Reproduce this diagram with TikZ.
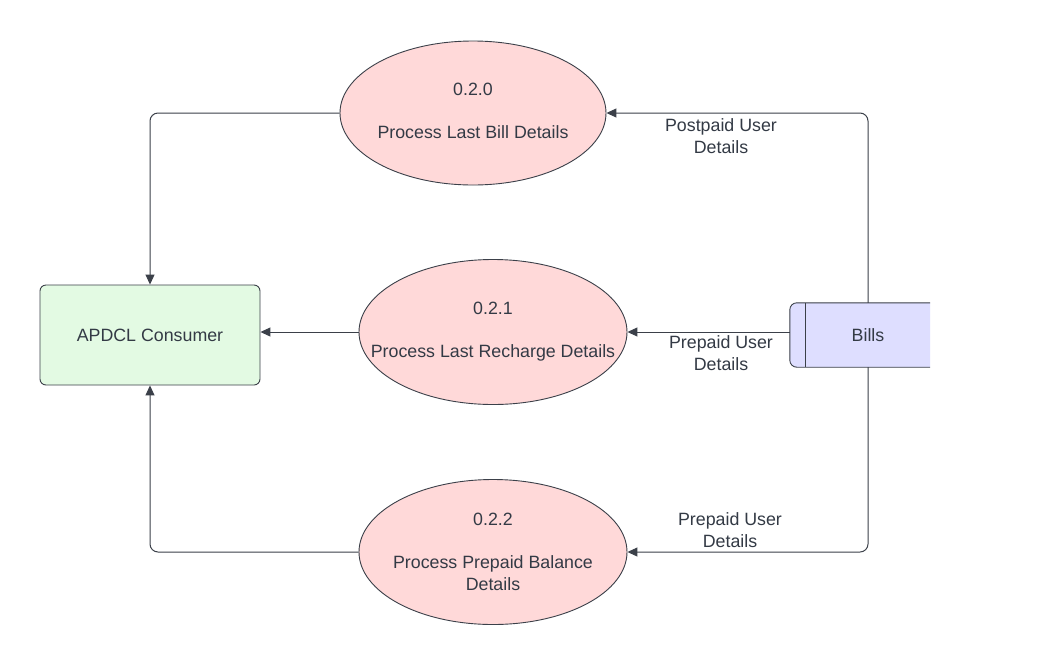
\documentclass[tikz,border=0pt]{standalone}
\usepackage{fontspec}
\setmainfont{Liberation Sans}
\usetikzlibrary{shapes.geometric,arrows.meta,backgrounds}
\definecolor{linec}{HTML}{3B4049}
\definecolor{txtc}{HTML}{333A45}
\definecolor{pinkf}{HTML}{FFD9D9}
\definecolor{greenf}{HTML}{E3FAE3}
\definecolor{bluef}{HTML}{DEDEFF}
\tikzset{
  proc/.style={ellipse, draw=linec, line width=0.9pt, fill=pinkf, inner sep=0pt},
  entity/.style={rectangle, rounded corners=6pt, draw=linec, line width=0.9pt, fill=greenf, inner sep=0pt, text=txtc},
  conn/.style={draw=linec, line width=1pt, rounded corners=8pt, -{Triangle[length=10pt,width=9pt]}},
  flowlabel/.style={align=center, text=txtc, inner sep=0pt},
}
\begin{document}
\begin{tikzpicture}[x=1pt,y=-1pt,font=\fontsize{17.8}{21.5}\selectfont]
\useasboundingbox (0,0) rectangle (1060,665);
\node[entity, minimum width=220pt, minimum height=100pt] (consumer) at (150,335) {APDCL Consumer};
\node[proc, minimum width=266pt, minimum height=144pt, label={[flowlabel, yshift=2pt]center:{0.2.0\\[21.5pt]Process Last Bill Details}}] (e0) at (473,113) {};
\node[proc, minimum width=268pt, minimum height=145pt, label={[flowlabel]center:{0.2.1\\[21.5pt]Process Last Recharge Details}}] (e1) at (493,332) {};
\node[proc, minimum width=268pt, minimum height=145pt, label={[flowlabel]center:{0.2.2\\[21.5pt]Process Prepaid Balance\\Details}}] (e2) at (493,552) {};
\node[rectangle, minimum width=124pt, minimum height=64pt, inner sep=0pt, text=txtc] (bills) at (868,335) {Bills};
\coordinate (btab) at ([xshift=-16pt]bills.west);
\begin{scope}[on background layer]
\fill[white] (0,0) rectangle (1060,665);
\path[fill=bluef, draw=linec, line width=0.9pt, rounded corners=7pt] (bills.north east) -- ([xshift=-16pt]bills.north west) -- ([xshift=-16pt]bills.south west) -- (bills.south east);
\draw[linec, line width=0.9pt] (bills.north west) -- (bills.south west);
\end{scope}
\draw[conn] (bills.north) |- (e0.east);
\draw[conn] (e0.west) -| (consumer.north);
\draw[conn] (e1.east -| btab) -- (e1.east);
\draw[conn] (e1.west) -- (e1.west -| consumer.east);
\draw[conn] (bills.south) |- (e2.east);
\draw[conn] (e2.west) -| (consumer.south);
\node[flowlabel] (l0) at (721,136) {Postpaid User\\Details};
\node[flowlabel] (l1) at (721,353) {Prepaid User\\Details};
\node[flowlabel] (l2) at (730,530) {Prepaid User\\Details};
\end{tikzpicture}
\end{document}
